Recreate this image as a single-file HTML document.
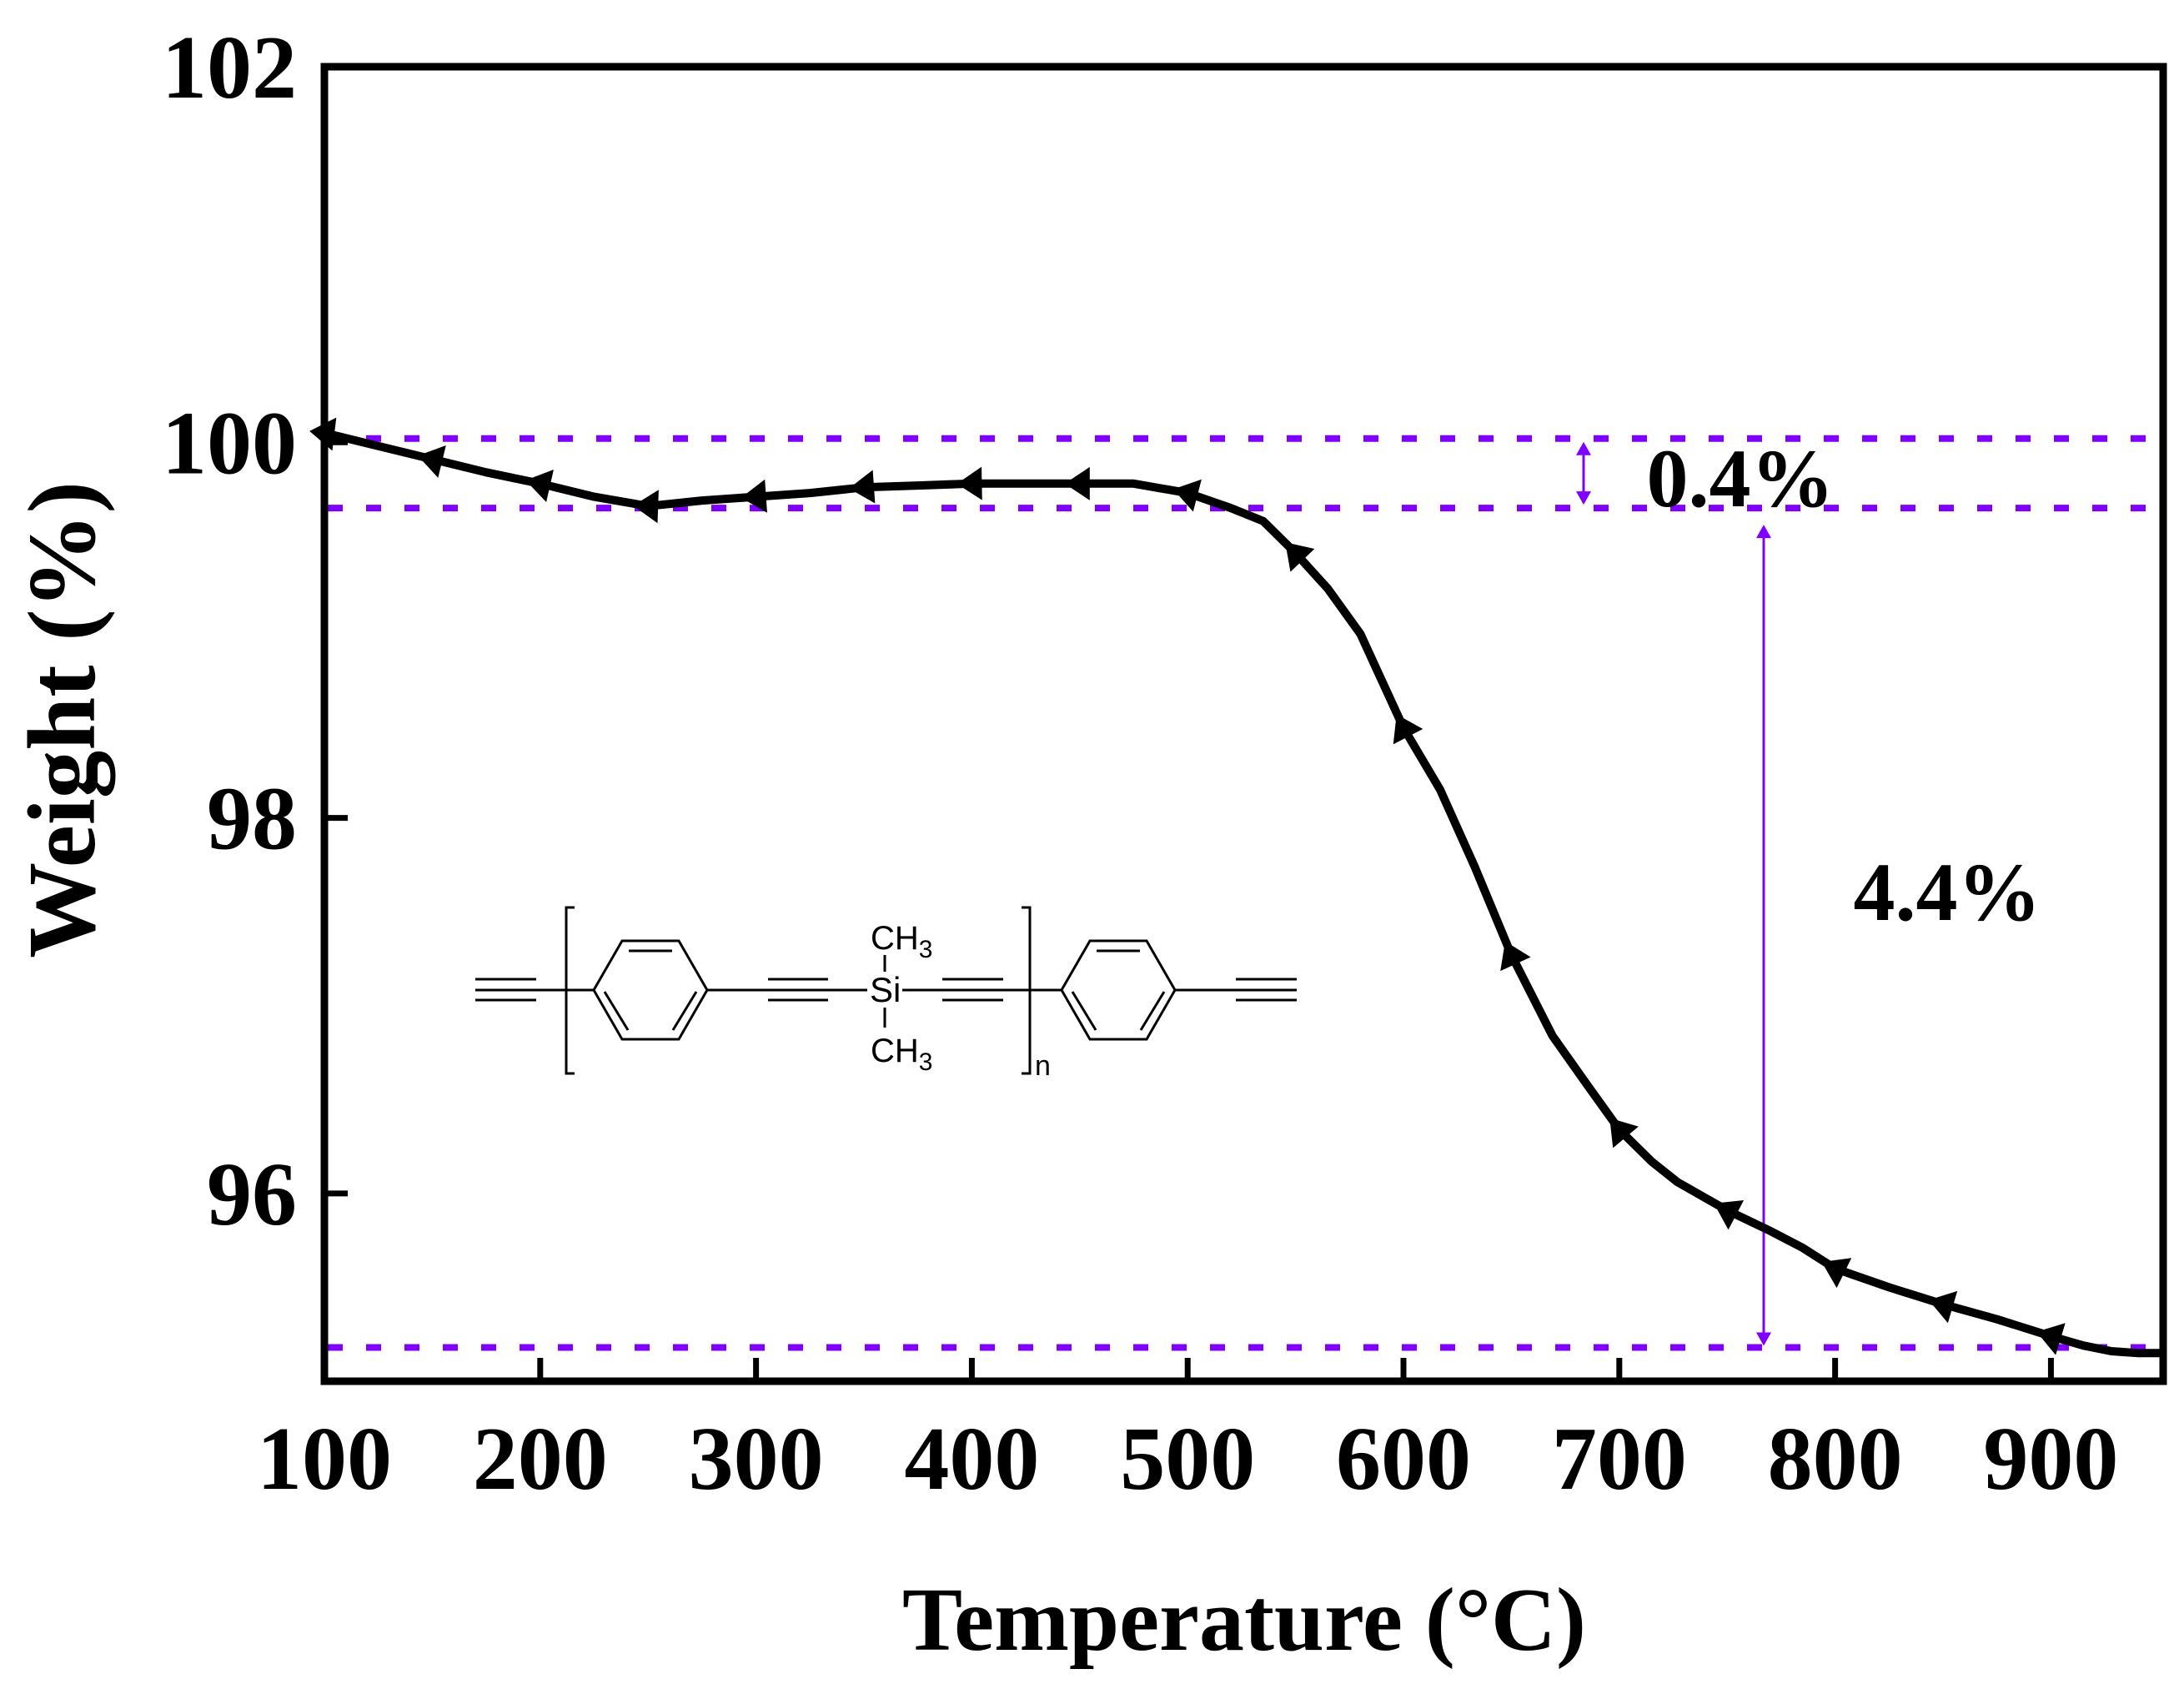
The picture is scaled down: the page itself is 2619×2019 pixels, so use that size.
<!DOCTYPE html>
<html><head><meta charset="utf-8"><style>
html,body{margin:0;padding:0;background:#fff;}
svg{display:block;}
text{font-family:"Liberation Serif",serif;font-weight:bold;fill:#000;}
.mol text{font-family:"Liberation Sans",sans-serif;font-weight:normal;}
</style></head><body>
<svg id="chart" width="2619" height="2019" viewBox="0 0 2619 2019" xmlns="http://www.w3.org/2000/svg">
<g id="plot"></g>
<g class="mol" stroke="#000" stroke-width="3" fill="none">
  <line x1="570" y1="1174" x2="643" y2="1174"/><line x1="570" y1="1187" x2="643" y2="1187"/><line x1="570" y1="1199" x2="643" y2="1199"/>
  <line x1="643" y1="1187" x2="712" y2="1187"/>
  <polyline points="689,1088 679,1088 679,1287 689,1287"/>
  <polygon points="712,1187 746,1128 814,1128 848,1187 814,1246 746,1246"/>
  <line x1="754" y1="1140" x2="806" y2="1140"/><line x1="725" y1="1189" x2="753" y2="1235"/><line x1="835" y1="1189" x2="807" y2="1235"/>
  <line x1="848" y1="1187" x2="1040" y2="1187"/>
  <line x1="921" y1="1174" x2="993" y2="1174"/><line x1="921" y1="1199" x2="993" y2="1199"/>
  <line x1="1082" y1="1187" x2="1273" y2="1187"/>
  <line x1="1130" y1="1174" x2="1203" y2="1174"/><line x1="1130" y1="1199" x2="1203" y2="1199"/>
  <line x1="1061" y1="1145" x2="1061" y2="1165"/><line x1="1061" y1="1208" x2="1061" y2="1232"/>
  <polyline points="1225,1088 1235,1088 1235,1287 1225,1287"/>
  <polygon points="1273,1187 1307,1128 1375,1128 1409,1187 1375,1246 1307,1246"/>
  <line x1="1315" y1="1140" x2="1367" y2="1140"/><line x1="1286" y1="1189" x2="1314" y2="1235"/><line x1="1396" y1="1189" x2="1368" y2="1235"/>
  <line x1="1409" y1="1187" x2="1555" y2="1187"/>
  <line x1="1482" y1="1174" x2="1555" y2="1174"/><line x1="1482" y1="1199" x2="1555" y2="1199"/>
  <g stroke="none" fill="#000">
    <text x="1043" y="1201" font-size="42">Si</text>
    <text x="1044" y="1138" font-size="40">CH<tspan font-size="30" dy="10">3</tspan></text>
    <text x="1044" y="1273" font-size="40">CH<tspan font-size="30" dy="10">3</tspan></text>
    <text x="1241" y="1289" font-size="34">n</text>
  </g>
</g>
</svg>
<script>
const temps   = [100,125,150,175,200,225,250,275,300,325,350,375,400,425,450,475,500,520,535,550,565,580,600,617,633,650,669,685,700,715,727,750,770,785,800,825,850,875,900,915,928,940,952];
const weights = [100.05,99.98,99.91,99.84,99.78,99.71,99.66,99.69,99.71,99.73,99.76,99.77,99.78,99.78,99.78,99.78,99.73,99.65,99.58,99.41,99.22,98.98,98.48,98.15,97.74,97.27,96.84,96.58,96.34,96.17,96.06,95.91,95.80,95.71,95.60,95.50,95.41,95.33,95.24,95.19,95.16,95.15,95.15];
const markerTemps = [100,150,200,250,300,350,400,450,500,550,600,650,700,750,800,850,900];
const xTicks = [100,200,300,400,500,600,700,800,900];
const yTicks = [96,98,100,102];
const refLines = [100.02,99.65,95.18];
const annotations = ["0.4%","4.4%"];

const L=389,R=2594,T=80,B=1656;
const xMin=100,xMax=952,yMin=95,yMax=102;
const sx=v=>L+(v-xMin)/(xMax-xMin)*(R-L);
const sy=v=>B-(v-yMin)/(yMax-yMin)*(B-T);
const NS="http://www.w3.org/2000/svg";
const plot=document.getElementById('plot');
function mk(tag,attrs,parent){const e=document.createElementNS(NS,tag);for(const k in attrs)e.setAttribute(k,attrs[k]);(parent||plot).appendChild(e);return e;}
function interp(t){for(let i=0;i<temps.length-1;i++){if(t>=temps[i]&&t<=temps[i+1]){const f=(t-temps[i])/(temps[i+1]-temps[i]);return weights[i]+f*(weights[i+1]-weights[i]);}}return weights[weights.length-1];}

refLines.forEach((v,i)=>{
  const l=mk('line',{x1:L+4,x2:R-4,y1:sy(v),y2:sy(v),stroke:'#7f00ff','stroke-width':8,'stroke-dasharray':'18 28'});
  
  
});
function darrow(x,v1,v2,name,gap1,gap2){
  const g=mk('g',{});
  
  
  const y1=sy(v1)+gap1,y2=sy(v2)-gap2;
  mk('line',{x1:x,x2:x,y1:y1+8,y2:y2-8,stroke:'#7f00ff','stroke-width':3},g);
  mk('polygon',{points:`${x},${y1} ${x-9},${y1+16} ${x+9},${y1+16}`,fill:'#7f00ff'},g);
  mk('polygon',{points:`${x},${y2} ${x-9},${y2-16} ${x+9},${y2-16}`,fill:'#7f00ff'},g);
}
darrow(1899,refLines[0],refLines[1],'arrow-0-4-percent',4,4);
darrow(2115,refLines[1],refLines[2],'arrow-4-4-percent',20,2);

const pts=temps.map((t,i)=>sx(t).toFixed(1)+','+sy(weights[i]).toFixed(1)).join(' ');
const curve=mk('polyline',{points:pts,fill:'none',stroke:'#000','stroke-width':10,'stroke-linejoin':'round'});


markerTemps.forEach(t=>{
  const x=sx(t),y=sy(interp(t));
  const xa=sx(t-5),ya=sy(interp(Math.max(xMin,t-5)));
  const xb=sx(t+5),yb=sy(interp(Math.min(xMax,t+5)));
  let dx=xa-xb,dy=ya-yb;const n=Math.hypot(dx,dy)||1;dx/=n;dy/=n;
  const px=-dy,py=dx;
  const tip=[x+dx*18,y+dy*18],b1=[x-dx*12+px*20,y-dy*12+py*20],b2=[x-dx*12-px*20,y-dy*12-py*20];
  const m=mk('polygon',{points:`${tip} ${b1} ${b2}`,fill:'#000'});
  
  
});

const fr=mk('rect',{x:L,y:T,width:R-L,height:B-T,fill:'none',stroke:'#000','stroke-width':9});


xTicks.forEach(v=>{
  const tk=mk('line',{x1:sx(v),x2:sx(v),y1:B,y2:B-28,stroke:'#000','stroke-width':7});
  
  
  const tx=mk('text',{x:sx(v),y:1785,'text-anchor':'middle','font-size':108});
  tx.textContent=v;
  
  
});
yTicks.forEach(v=>{
  if(v<yMax){const tk=mk('line',{x1:L,x2:L+28,y1:sy(v),y2:sy(v),stroke:'#000','stroke-width':7});
  
  }
  const tx=mk('text',{x:356,y:sy(v)+37,'text-anchor':'end','font-size':108});
  tx.textContent=v;
  
  
});
const xt=mk('text',{x:1492,y:1978,'text-anchor':'middle','font-size':108});
xt.textContent='Temperature (°C)';


const yt=mk('text',{x:0,y:0,'text-anchor':'middle','font-size':115,transform:'translate(113,863) rotate(-90)'});
yt.textContent='Weight (%)';


const a1=mk('text',{x:2087,y:607,'text-anchor':'middle','font-size':100});
a1.textContent=annotations[0];


const a2=mk('text',{x:2335,y:1103,'text-anchor':'middle','font-size':100});
a2.textContent=annotations[1];


</script>
</body></html>
